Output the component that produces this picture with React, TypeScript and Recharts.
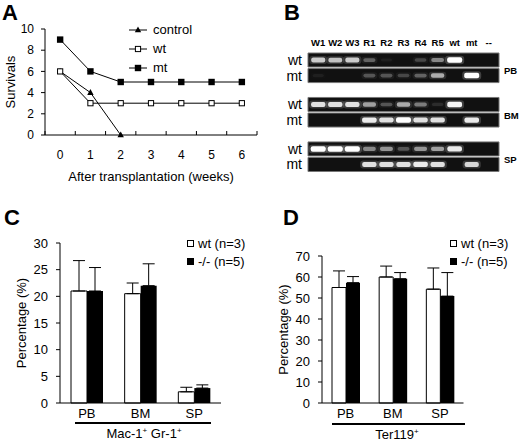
import React from "react";
import {
  LineChart,
  Line,
  XAxis,
  YAxis,
  Legend,
  BarChart,
  Bar,
  ErrorBar,
  ScatterChart,
  Scatter,
  ReferenceArea,
} from "recharts";

const FONT = "'Liberation Sans', Arial, Helvetica, sans-serif";

/* ─── A: survival after transplantation ─── */
const weeks = [0, 1, 2, 3, 4, 5, 6];
const controlSurvivals = [6, 4, 0];
const wtSurvivals = [6, 3, 3, 3, 3, 3, 3];
const mtSurvivals = [9, 6, 5, 5, 5, 5, 5];
const survivalKeys = ["control", "wt", "mt"];
const survivalTicks = [0, 2, 4, 6, 8, 10];
const weekTicks = [-0.5, 0, 0.5, 1, 1.5, 2, 2.5, 3, 3.5, 4, 4.5, 5, 5.5, 6, 6.5];

/* ─── B: PCR gels (band brightness 0..1 per lane) ─── */
const laneNames = ["W1", "W2", "W3", "R1", "R2", "R3", "R4", "R5", "wt", "mt", "--"];
const tissueNames = ["PB", "BM", "SP"];
const alleleNames = ["wt", "mt"];
const pbWtBands = [0.75, 0.7, 0.75, 0.3, 0.05, 0, 0.2, 0.45, 1, 0, 0];
const pbMtBands = [0.05, 0, 0, 0.25, 0.25, 0.2, 0.3, 0.6, 0, 1, 0];
const bmWtBands = [0.85, 0.85, 0.85, 0.55, 0.25, 0.6, 0.4, 0.1, 0.95, 0, 0];
const bmMtBands = [0, 0, 0, 0.9, 0.85, 1, 0.85, 0.85, 0, 0.9, 0];
const spWtBands = [1, 1, 1, 0.45, 0.5, 0.25, 0.5, 0.55, 0.9, 0, 0];
const spMtBands = [0, 0, 0, 0.85, 0.85, 0.85, 0.9, 0.85, 0, 0.8, 0];

/* ─── C / D: flow cytometry percentages ─── */
const cellSites = ["PB", "BM", "SP"];
const macWt = [21, 20.5, 2.1];
const macWtErr = [5.7, 2.0, 0.85];
const macKo = [21, 22, 2.8];
const macKoErr = [4.4, 4.1, 0.6];
const terWt = [55, 60, 54.2];
const terWtErr = [7.9, 5.2, 10.1];
const terKo = [57.3, 59.2, 50.9];
const terKoErr = [2.9, 2.9, 11.2];
const barKeys = ["wt", "ko"];
const macTicks = [0, 5, 10, 15, 20, 25, 30];
const terTicks = [0, 10, 20, 30, 40, 50, 60, 70];

const survivalData = weeks.map((w, i) => ({
  week: w,
  control: controlSurvivals[i],
  wt: wtSurvivals[i],
  mt: mtSurvivals[i],
}));

const GROUP_STEP = 2.855; // row units between gel groups
const rowPos = (g: number, r: number) => g * GROUP_STEP + r;
const gelRows = [
  [pbWtBands, pbMtBands],
  [bmWtBands, bmMtBands],
  [spWtBands, spMtBands],
];
const bandData = gelRows.flatMap((rows, g) =>
  rows.flatMap((vals, r) =>
    vals.map((v, lane) => ({ lane, row: rowPos(g, r), v })).filter((d) => d.v > 0)
  )
);
const rowTicks = tissueNames.flatMap((_, g) => alleleNames.map((__, r) => rowPos(g, r)));
const tissueTicks = tissueNames.map((_, g) => rowPos(g, 0.71));
const tissueData = tissueTicks.map((t) => ({ lane: 10, row: t }));

const macData = cellSites.map((s, i) => ({
  site: s,
  wt: macWt[i],
  ko: macKo[i],
  wtErr: [0, macWtErr[i]],
  koErr: [0, macKoErr[i]],
}));
const terData = cellSites.map((s, i) => ({
  site: s,
  wt: terWt[i],
  ko: terKo[i],
  wtErr: [0, terWtErr[i]],
  koErr: [0, terKoErr[i]],
}));

/* ─── markers ─── */
function TriangleDot(props: any) {
  const { cx, cy, value } = props;
  if (cx == null || cy == null || value == null) return <g />;
  return (
    <path
      d={`M${cx},${cy - 3.5}L${cx + 3.2},${cy + 2.3}L${cx - 3.2},${cy + 2.3}Z`}
      fill="#000"
    />
  );
}
function OpenSquareDot(props: any) {
  const { cx, cy, value } = props;
  if (cx == null || cy == null || value == null) return <g />;
  return <rect x={cx - 2.6} y={cy - 2.6} width={5.2} height={5.2} fill="#fff" stroke="#000" strokeWidth={1} />;
}
function FilledSquareDot(props: any) {
  const { cx, cy, value } = props;
  if (cx == null || cy == null || value == null) return <g />;
  return <rect x={cx - 3.2} y={cy - 3.2} width={6.4} height={6.4} fill="#000" />;
}
const dotFor: Record<string, (p: any) => React.ReactElement> = {
  control: TriangleDot,
  wt: OpenSquareDot,
  mt: FilledSquareDot,
};

function WeekTick(props: any) {
  const { x, y, payload } = props;
  if (Number.isInteger(payload.value)) {
    return (
      <text x={x} y={y + 24} textAnchor="middle" fontSize={12} fill="#000">
        {payload.value}
      </text>
    );
  }
  return <line x1={x} y1={y} x2={x} y2={y - 4} stroke="#000" strokeWidth={1} />;
}

const inOrder = (payload: any[], keys: string[]) =>
  [...(payload || [])].sort((a, b) => keys.indexOf(a.dataKey) - keys.indexOf(b.dataKey));

function SurvivalLegend({ payload }: any) {
  return (
    <div style={{ fontSize: 13, color: "#000" }}>
      {inOrder(payload, survivalKeys).map((entry: any) => {
        const Dot = dotFor[entry.dataKey];
        return (
          <div key={entry.dataKey} style={{ display: "flex", alignItems: "center", height: 19 }}>
            <svg width={18} height={10}>
              <line x1={0} y1={5} x2={18} y2={5} stroke="#000" strokeWidth={1} />
              <Dot cx={9} cy={5} value={1} />
            </svg>
            <span style={{ marginLeft: 6 }}>{entry.value}</span>
          </div>
        );
      })}
    </div>
  );
}

function BarLegend({ payload }: any) {
  return (
    <div style={{ fontSize: 13, color: "#000" }}>
      {inOrder(payload, barKeys).map((entry: any) => (
        <div key={entry.dataKey} style={{ display: "flex", alignItems: "center", height: 18 }}>
          <span
            style={{
              width: 5,
              height: 5,
              background: entry.color,
              border: "1px solid #000",
              display: "inline-block",
            }}
          />
          <span style={{ marginLeft: 4 }}>{entry.value}</span>
        </div>
      ))}
    </div>
  );
}

function GelBand(props: any) {
  const { cx, cy, payload } = props;
  const v = payload.v;
  const w = 11 + 4 * v;
  const h = 3 + 2.5 * v;
  return (
    <g>
      <rect x={cx - w / 2 - 2} y={cy - h / 2 - 1.5} width={w + 4} height={h + 3} rx={3} fill="#fff" opacity={0.2 * v} />
      <rect x={cx - w / 2} y={cy - h / 2} width={w} height={h} rx={2} fill="#fff" opacity={v} />
    </g>
  );
}

const allelesFromRow = (v: number) => {
  const g = Math.floor((v + 0.01) / GROUP_STEP);
  return alleleNames[Math.round(v - g * GROUP_STEP)];
};
const tissueFromRow = (v: number) => tissueNames[Math.round((v - 0.71) / GROUP_STEP)];

const axisTick = { fill: "#000", fontSize: 13 };
const yTitle = (offset: number) => ({
  value: "Percentage (%)",
  angle: -90,
  position: "insideLeft" as const,
  offset,
  style: { textAnchor: "middle", fill: "#000", fontSize: 13 },
});

function SurvivalChart() {
  return (
    <LineChart width={260} height={200} data={survivalData} margin={{ top: 29, right: 3, bottom: 0, left: 0 }}>
      <XAxis
        dataKey="week"
        type="number"
        domain={[-0.5, 6.5]}
        ticks={weekTicks}
        interval={0}
        height={65}
        stroke="#000"
        tickLine={false}
        tickSize={0}
        tickMargin={0}
        tick={<WeekTick />}
        label={{
          value: "After transplantation (weeks)",
          position: "insideBottom",
          offset: 19,
          style: { fill: "#000", fontSize: 13 },
        }}
      />
      <YAxis
        type="number"
        domain={[0, 10]}
        ticks={survivalTicks}
        interval={0}
        width={45}
        stroke="#000"
        tickSize={4}
        tickMargin={7}
        tick={{ fill: "#000", fontSize: 12 }}
        label={{
          value: "Survivals",
          angle: -90,
          position: "insideLeft",
          offset: 10,
          style: { textAnchor: "middle", fill: "#000", fontSize: 13 },
        }}
      />
      <Legend
        layout="vertical"
        align="center"
        verticalAlign="middle"
        content={<SurvivalLegend />}
        wrapperStyle={{ top: 20, left: 129, width: "auto" }}
      />
      <Line type="linear" dataKey="control" name="control" stroke="#000" strokeWidth={1} dot={<TriangleDot />} isAnimationActive={false} />
      <Line type="linear" dataKey="wt" name="wt" stroke="#000" strokeWidth={1} dot={<OpenSquareDot />} isAnimationActive={false} />
      <Line type="linear" dataKey="mt" name="mt" stroke="#000" strokeWidth={1} dot={<FilledSquareDot />} isAnimationActive={false} />
    </LineChart>
  );
}

function GelChart() {
  return (
    <ScatterChart width={260} height={200} margin={{ top: 0, right: 0, bottom: 28.5, left: 0 }}>
      <XAxis
        dataKey="lane"
        type="number"
        orientation="top"
        domain={[-0.6, 10.6]}
        ticks={laneNames.map((_, i) => i)}
        interval={0}
        tickFormatter={(i: number) => laneNames[i]}
        height={53}
        axisLine={false}
        tickLine={false}
        tickSize={0}
        tickMargin={7}
        tick={{ fill: "#000", fontSize: 9.5, fontWeight: "bold" }}
      />
      <YAxis
        yAxisId="rows"
        dataKey="row"
        type="number"
        reversed
        domain={[-0.45, 2 * GROUP_STEP + 1.45]}
        ticks={rowTicks}
        interval={0}
        tickFormatter={allelesFromRow}
        width={48}
        axisLine={false}
        tickLine={false}
        tickSize={0}
        tickMargin={6}
        tick={{ fill: "#000", fontSize: 14 }}
      />
      <YAxis
        yAxisId="tissue"
        dataKey="row"
        orientation="right"
        type="number"
        reversed
        domain={[-0.45, 2 * GROUP_STEP + 1.45]}
        ticks={tissueTicks}
        interval={0}
        tickFormatter={tissueFromRow}
        width={21}
        axisLine={false}
        tickLine={false}
        tickSize={0}
        tickMargin={5}
        tick={{ fill: "#000", fontSize: 9.5, fontWeight: "bold" }}
      />
      {rowTicks.map((r) => (
        <ReferenceArea
          key={r}
          yAxisId="rows"
          x1={-0.6}
          x2={10.6}
          y1={r - 0.45}
          y2={r + 0.45}
          fill="#111"
          fillOpacity={1}
          stroke="#777"
          strokeWidth={1}
        />
      ))}
      <Scatter yAxisId="rows" data={bandData} shape={<GelBand />} isAnimationActive={false} />
      <Scatter yAxisId="tissue" data={tissueData} shape={() => <g />} legendType="none" isAnimationActive={false} />
    </ScatterChart>
  );
}

function PercentChart({
  data,
  ticks,
  max,
  yWidth,
  top,
  right,
  barSize,
  legendLeft,
}: {
  data: typeof macData;
  ticks: number[];
  max: number;
  yWidth: number;
  top: number;
  right: number;
  barSize: number;
  legendLeft: number;
}) {
  return (
    <BarChart
      width={260}
      height={236}
      data={data}
      margin={{ top, right, bottom: 0, left: 0 }}
      barGap={0}
      barSize={barSize}
    >
      <XAxis
        dataKey="site"
        height={38}
        stroke="#000"
        tickLine={false}
        tickSize={0}
        tickMargin={6}
        tick={axisTick}
      />
      <YAxis
        type="number"
        domain={[0, max]}
        ticks={ticks}
        interval={0}
        width={yWidth}
        stroke="#000"
        tickSize={4}
        tickMargin={8}
        tick={axisTick}
        label={yTitle(yWidth - 39)}
      />
      <Legend
        layout="vertical"
        align="center"
        verticalAlign="middle"
        content={<BarLegend />}
        wrapperStyle={{ top: 29, left: legendLeft, width: "auto" }}
      />
      <Bar dataKey="wt" name="wt (n=3)" fill="#fff" stroke="#000" strokeWidth={1} isAnimationActive={false}>
        <ErrorBar dataKey="wtErr" width={6} stroke="#000" strokeWidth={1} direction="y" />
      </Bar>
      <Bar dataKey="ko" name="-/- (n=5)" fill="#000" isAnimationActive={false}>
        <ErrorBar dataKey="koErr" width={6} stroke="#000" strokeWidth={1} direction="y" />
      </Bar>
    </BarChart>
  );
}

export default function App() {
  return (
    <div
      style={{
        position: "absolute",
        left: 0,
        top: 0,
        width: 520,
        height: 441,
        background: "#fff",
        fontFamily: FONT,
        color: "#000",
      }}
    >
      <div style={{ position: "absolute", left: 0, top: 0 }}>
        <SurvivalChart />
      </div>
      <div style={{ position: "absolute", left: 260, top: 0 }}>
        <GelChart />
      </div>
      <div style={{ position: "absolute", left: 0, top: 205 }}>
        <PercentChart data={macData} ticks={macTicks} max={30} yWidth={60} top={38} right={39} barSize={16} legendLeft={187} />
      </div>
      <div style={{ position: "absolute", left: 260, top: 205 }}>
        <PercentChart data={terData} ticks={terTicks} max={70} yWidth={62} top={51} right={56.5} barSize={14} legendLeft={190} />
      </div>
      <svg width={520} height={441} style={{ position: "absolute", left: 0, top: 0, pointerEvents: "none" }}>
        <g fontWeight="bold" fontSize={22} fill="#000">
          <text x={2} y={20}>A</text>
          <text x={284} y={20}>B</text>
          <text x={4} y={225}>C</text>
          <text x={283} y={225}>D</text>
        </g>
        <line x1={75} x2={211} y1={423} y2={423} stroke="#000" strokeWidth={2} />
        <text x={144} y={437.5} textAnchor="middle" fontSize={13} fill="#000">
          Mac-1<tspan fontSize={8} dy={-5}>+</tspan>
          <tspan dy={5}> Gr-1</tspan>
          <tspan fontSize={8} dy={-5}>+</tspan>
        </text>
        <line x1={332} x2={465} y1={424} y2={424} stroke="#000" strokeWidth={2} />
        <text x={397} y={439} textAnchor="middle" fontSize={13} fill="#000">
          Ter119<tspan fontSize={8} dy={-5}>+</tspan>
        </text>
      </svg>
    </div>
  );
}
